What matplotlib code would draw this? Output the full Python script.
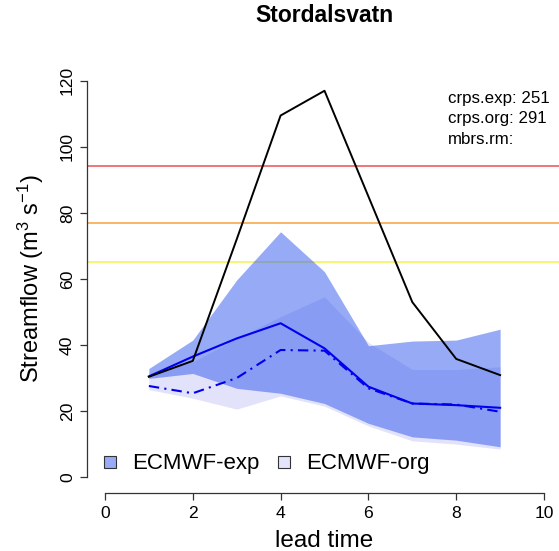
import matplotlib
matplotlib.use("Agg")
import matplotlib.pyplot as plt
from matplotlib.lines import Line2D
import numpy as np

plt.rcParams['font.family'] = ['Liberation Sans', 'DejaVu Sans']
plt.rcParams['mathtext.default'] = 'regular'

lead = [1, 2, 3, 4, 5, 6, 7, 8, 9]
observed = [30.4, 35.2, 72.0, 109.5, 117.0, 85.0, 53.0, 35.8, 30.9]
median_exp = [30.5, 36.5, 42.0, 46.6, 39.0, 27.4, 22.3, 21.8, 21.0]
median_org = [27.6, 25.4, 30.0, 38.5, 38.3, 26.9, 22.3, 22.0, 19.8]
exp_upper = [32.9, 41.5, 59.7, 74.3, 62.2, 39.8, 41.2, 41.5, 44.8]
exp_lower = [29.9, 31.4, 26.9, 25.4, 22.3, 16.3, 12.2, 11.2, 9.2]
org_upper = [31.4, 34.9, 42.0, 48.6, 54.6, 40.8, 32.6, 32.6, 33.4]
org_lower = [26.5, 23.9, 20.6, 24.6, 21.5, 15.5, 11.0, 10.0, 8.5]
thresholds = [94.2, 76.9, 65.2]
threshold_colors = ['#f06a6a', '#fab05a', '#f4f468']
scores = ["crps.exp: 251", "crps.org: 291", "mbrs.rm:"]
legend_labels = ["ECMWF-exp", "ECMWF-org"]

W, H = 559, 551
fig = plt.figure(figsize=(W / 100, H / 100), dpi=100)
left, right, top, bottom = 87.4, 561.6, 65, 493
ax = fig.add_axes([left / W, 1 - bottom / H, (right - left) / W, (bottom - top) / H])
ax.set_xlim(-0.4, 10.4)
ax.set_ylim(-4.8, 124.8)

for t, c in zip(thresholds, threshold_colors):
    ax.axhline(t, color=c, lw=1.3, zorder=1)

exp_col = (47 / 255, 87 / 255, 239 / 255)
org_col = (198 / 255, 198 / 255, 247 / 255)
ax.fill_between(lead, org_lower, org_upper, color=org_col, alpha=0.5, lw=0, zorder=2)
ax.fill_between(lead, exp_lower, exp_upper, color=exp_col, alpha=0.5, lw=0, zorder=3)

ax.plot(lead, observed, color='black', lw=1.4, zorder=5)
ax.plot(lead, median_exp, color='#0000ee', lw=1.5, zorder=4)
ax.plot(lead, median_org, color='#0000ee', lw=1.5, linestyle=(0, (5, 2.5, 1, 2.5)), zorder=4)

for s in ['top', 'right']:
    ax.spines[s].set_visible(False)
ax.spines['left'].set_bounds(0, 120)
ax.spines['bottom'].set_bounds(0, 10)
for s in ['left', 'bottom']:
    ax.spines[s].set_color('#333333')
    ax.spines[s].set_linewidth(0.9)
ax.set_xticks([0, 2, 4, 6, 8, 10])
ax.set_yticks([0, 20, 40, 60, 80, 100, 120])
ax.tick_params(axis='both', length=5, width=0.9, color='#333333', labelsize=12.6)
ax.tick_params(axis='x', pad=4)
ax.tick_params(axis='y', pad=4)
for lab in ax.get_yticklabels():
    lab.set_rotation(90)
    lab.set_va('center')

ax.set_xlabel("lead time", fontsize=17.5, labelpad=7)
ax.set_ylabel("Streamflow (m$^{3}$ s$^{-1}$)", fontsize=17, labelpad=10)
fig.text((left + right) / 2 / W, 1 - 16 / H, "Stordalsvatn", fontsize=16.5,
         fontweight='bold', ha='center', va='center')

for i, s in enumerate(scores):
    fig.text(448 / W, 1 - (98 + 20.7 * i) / H, s, fontsize=12.2, ha='left', va='center')

exp_face = (0.5 * exp_col[0] + 0.5, 0.5 * exp_col[1] + 0.5, 0.5 * exp_col[2] + 0.5)
org_face = (0.5 * org_col[0] + 0.5, 0.5 * org_col[1] + 0.5, 0.5 * org_col[2] + 0.5)
handles = [Line2D([], [], marker='s', linestyle='none', markersize=8,
                  markerfacecolor=exp_face, markeredgecolor='#333333', markeredgewidth=0.8),
           Line2D([], [], marker='s', linestyle='none', markersize=8,
                  markerfacecolor=org_face, markeredgecolor='#333333', markeredgewidth=0.8)]
ax.legend(handles, legend_labels, ncol=2, frameon=False, fontsize=16,
          loc='center left', bbox_to_anchor=(101 / W, 1 - 464 / H),
          bbox_transform=fig.transFigure, borderpad=0, borderaxespad=0,
          handlelength=0.8, handletextpad=0.6, columnspacing=0.7)

fig.savefig("out.png", dpi=100)
